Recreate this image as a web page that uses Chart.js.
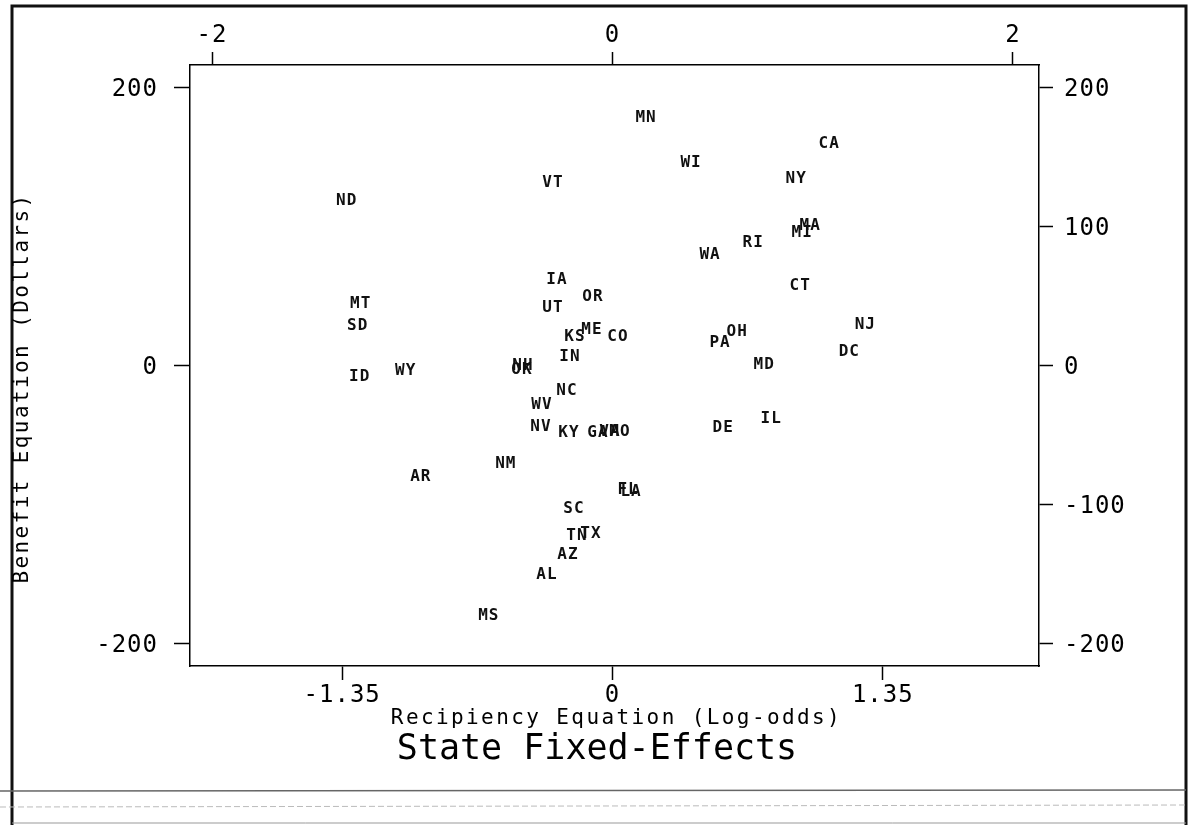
<!DOCTYPE html>
<html>
<head>
<meta charset="utf-8">
<script src="https://cdn.jsdelivr.net/npm/chart.js@4/dist/chart.umd.min.js"></script>
<style>
  html, body { margin: 0; padding: 0; background: #ffffff; }
  #wrap { width: 1191px; height: 825px; position: relative; }
</style>
</head>
<body>
<div id="wrap"><canvas id="c" width="1191" height="825"></canvas></div>
<script>
// ---- Data ----
const stateCodes = ["MN","CA","WI","NY","VT","ND","MA","MI","RI","WA","IA","CT","OR","MT","UT","SD","NJ","OH","PA","ME","KS","CO","IN","DC","MD","NH","OK","WY","ID","NC","WV","IL","NV","KY","GA","VA","MO","DE","NM","AR","FL","LA","SC","TN","TX","AZ","AL","MS"];
const recipiency = [0.165,1.08,0.39,0.915,-0.30,-1.33,0.985,0.945,0.70,0.485,-0.28,0.935,-0.10,-1.26,-0.30,-1.275,1.26,0.62,0.535,-0.105,-0.19,0.025,-0.215,1.18,0.755,-0.45,-0.455,-1.035,-1.265,-0.23,-0.355,0.79,-0.36,-0.22,-0.075,-0.015,0.035,0.55,-0.535,-0.96,0.075,0.09,-0.195,-0.18,-0.11,-0.225,-0.33,-0.62];
const benefit    = [179,160,146,135,132,119,101,96,89,80,62,58,50,45,42,29,29.5,25,16.5,26,21,21,7,10,0.7,0,-3,-3.6,-8,-18,-28,-38,-44,-48,-48,-47.5,-47,-44.6,-70,-80,-89,-90.6,-103,-122,-121,-136,-150,-180];

const xBottomTicks = [-1.35, 0, 1.35];
const xTopTicks    = [-2, 0, 2];
const yLeftTicks   = [200, 0, -200];
const yRightTicks  = [200, 100, 0, -100, -200];

const xTitle = "Recipiency Equation (Log-odds)";
const yTitle = "Benefit Equation (Dollars)";
const mainTitle = "State Fixed-Effects";

// ---- Helpers ----
const MONO = "'DejaVu Sans Mono', 'Liberation Mono', monospace";
function fixedTicks(vals) {
  return function(scale) { scale.ticks = vals.map(v => ({ value: v })); };
}
function scaleCommon(vals, tickLen, pad, labelOffset) {
  return {
    type: 'linear',
    afterBuildTicks: fixedTicks(vals),
    grid: { display: true, drawOnChartArea: false, drawTicks: true, tickLength: tickLen, tickColor: '#000', tickWidth: 1.5 },
    border: { display: true, color: '#000', width: 1.5 },
    ticks: { autoSkip: false, maxRotation: 0, minRotation: 0, color: '#000', padding: pad, labelOffset: labelOffset || 0,
             font: { family: MONO, size: 24 }, callback: v => String(v) }
  };
}

const points = stateCodes.map((s, i) => ({ x: recipiency[i], y: benefit[i] }));

const decorPlugin = {
  id: 'decor',
  beforeDraw(chart) {
    const ctx = chart.ctx;
    ctx.save();
    ctx.fillStyle = '#fff';
    ctx.fillRect(0, 0, chart.width, chart.height);
    // outer frame
    ctx.strokeStyle = '#111';
    ctx.lineWidth = 3;
    ctx.beginPath();
    ctx.moveTo(12, 825); ctx.lineTo(12, 6); ctx.lineTo(1186, 6); ctx.lineTo(1186, 825);
    ctx.stroke();
    ctx.lineWidth = 1.5;
    ctx.strokeStyle = '#666';
    ctx.beginPath(); ctx.moveTo(0, 791); ctx.lineTo(1186, 790); ctx.stroke();
    ctx.lineWidth = 1;
    ctx.strokeStyle = '#bbb';
    ctx.setLineDash([6, 3]);
    ctx.beginPath(); ctx.moveTo(0, 807); ctx.lineTo(1186, 805); ctx.stroke();
    ctx.setLineDash([]);
    ctx.strokeStyle = '#999';
    ctx.beginPath(); ctx.moveTo(12, 823); ctx.lineTo(1186, 823); ctx.stroke();
    ctx.restore();
    ctx.letterSpacing = '1px';
  },
  afterDatasetsDraw(chart) {
    const ctx = chart.ctx;
    const meta = chart.getDatasetMeta(0);
    ctx.save();
    ctx.fillStyle = '#111';
    ctx.font = "bold 16px " + MONO;
    ctx.letterSpacing = '1px';
    ctx.textAlign = 'center';
    ctx.textBaseline = 'middle';
    meta.data.forEach((pt, i) => {
      ctx.fillText(stateCodes[i], pt.x + 0.5, pt.y + 1);
    });
    ctx.restore();
  },
  afterDraw(chart) {
    const ctx = chart.ctx;
    const a = chart.chartArea;
    ctx.save();
    ctx.fillStyle = '#000';
    ctx.textAlign = 'center';
    ctx.textBaseline = 'middle';
    ctx.font = "21px " + MONO;
    ctx.letterSpacing = '2.4px';
    ctx.fillText(xTitle, (a.left + a.right) / 2 + 2, 719);
    ctx.letterSpacing = '0px';
    ctx.font = "35px " + MONO;
    ctx.fillText(mainTitle, 597, 750);
    ctx.translate(23, 388);
    ctx.rotate(-Math.PI / 2);
    ctx.font = "21px " + MONO;
    ctx.letterSpacing = '2.4px';
    ctx.fillText(yTitle, 0, 0);
    ctx.restore();
  }
};

const xB = scaleCommon(xBottomTicks, 14, 1);
xB.position = 'bottom'; xB.min = -2.11; xB.max = 2.13;
xB.afterFit = s => { s.height = 159; };
const xT = scaleCommon(xTopTicks, 13, 2);
xT.position = 'top'; xT.min = -2.11; xT.max = 2.13;
xT.afterFit = s => { s.height = 65; };
const yL = scaleCommon(yLeftTicks, 16, 16, 3);
yL.position = 'left'; yL.min = -216.5; yL.max = 216;
yL.afterFit = s => { s.width = 190; };
const yR = scaleCommon(yRightTicks, 14, 11, 3);
yR.position = 'right'; yR.min = -216.5; yR.max = 216;
yR.afterFit = s => { s.width = 152; };

new Chart(document.getElementById('c'), {
  type: 'scatter',
  data: {
    datasets: [{
      label: 'States',
      data: points,
      pointRadius: 0,
      pointHoverRadius: 0,
      xAxisID: 'x',
      yAxisID: 'y'
    }]
  },
  options: {
    responsive: false,
    animation: false,
    devicePixelRatio: 1,
    layout: { padding: 0 },
    plugins: { legend: { display: false }, tooltip: { enabled: false }, title: { display: false } },
    scales: { x: xB, x2: xT, y: yL, y2: yR }
  },
  plugins: [decorPlugin]
});
</script>
</body>
</html>
